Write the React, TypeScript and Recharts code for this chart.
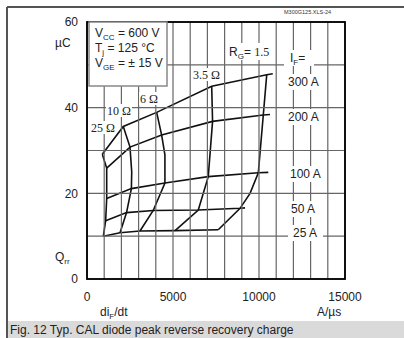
import React from "react"
import { Line, LineChart, XAxis, YAxis } from "recharts"

// di_F/dt in A/us, Q_rr in uC
const xTicks = [0, 1000, 2000, 3000, 4000, 5000, 6000, 7000, 8000, 9000, 10000, 11000, 12000, 13000, 14000, 15000]
const yTicks = [0, 10, 20, 30, 40, 50, 60]
const xLabels = [0, 5000, 10000, 15000]
const yLabels = [0, 20, 40, 60]

// I_F curves (left to right: 25, 10, 6, 3.5, 1.5 ohm)
const if300 = [
  { x: 890, y: 29.1 },
  { x: 2110, y: 35.6 },
  { x: 4050, y: 38.9 },
  { x: 7250, y: 45.0 },
  { x: 10450, y: 47.7 },
  { x: 10800, y: 47.9 },
]
const if200 = [
  { x: 1145, y: 25.9 },
  { x: 2500, y: 30.8 },
  { x: 4340, y: 33.6 },
  { x: 7300, y: 36.8 },
  { x: 10250, y: 38.3 },
  { x: 10640, y: 38.4 },
]
const if100 = [
  { x: 1145, y: 18.8 },
  { x: 2580, y: 21.1 },
  { x: 4530, y: 22.4 },
  { x: 7050, y: 23.9 },
  { x: 9960, y: 24.8 },
  { x: 10540, y: 24.9 },
]
const if50 = [
  { x: 1085, y: 13.6 },
  { x: 2300, y: 15.5 },
  { x: 3850, y: 16.0 },
  { x: 6470, y: 16.1 },
  { x: 8900, y: 16.5 },
  { x: 9190, y: 16.6 },
]
const if25 = [
  { x: 950, y: 10.0 },
  { x: 1920, y: 10.8 },
  { x: 3080, y: 11.2 },
  { x: 5120, y: 11.3 },
  { x: 7630, y: 11.5 },
]

// R_G curves (top to bottom: 300, 200, 100, 50, 25 A)
const rg25 = [
  { x: 890, y: 29.1 },
  { x: 1145, y: 25.9 },
  { x: 1145, y: 18.8 },
  { x: 1085, y: 13.6 },
  { x: 950, y: 10.0 },
]
const rg10 = [
  { x: 2110, y: 35.6 },
  { x: 2500, y: 30.8 },
  { x: 2600, y: 25.0 },
  { x: 2580, y: 21.1 },
  { x: 2300, y: 15.5 },
  { x: 1920, y: 10.8 },
]
const rg6 = [
  { x: 4050, y: 38.9 },
  { x: 4340, y: 33.6 },
  { x: 4530, y: 29.0 },
  { x: 4530, y: 22.4 },
  { x: 3850, y: 16.0 },
  { x: 3080, y: 11.2 },
]
const rg35 = [
  { x: 7250, y: 45.0 },
  { x: 7300, y: 36.8 },
  { x: 7050, y: 23.9 },
  { x: 6470, y: 16.1 },
  { x: 5120, y: 11.3 },
]
const rg15 = [
  { x: 10450, y: 47.7 },
  { x: 10250, y: 38.3 },
  { x: 9960, y: 24.8 },
  { x: 9480, y: 20.0 },
  { x: 8900, y: 16.5 },
  { x: 7630, y: 11.5 },
]

const curves = [if300, if200, if100, if50, if25, rg25, rg10, rg6, rg35, rg15]

const sans = "'Liberation Sans', Arial, sans-serif"
const serif = "'Liberation Serif', 'Times New Roman', serif"
const gridColor = "#666"

// plot box, must agree with the chart margins below
const plot = { left: 87, top: 22, right: 345, bottom: 279 }
const sx = (v: number) => plot.left + (v / 15000) * (plot.right - plot.left)
const sy = (v: number) => plot.bottom - (v / 60) * (plot.bottom - plot.top)

function Overlay() {
  const sub = { fontSize: 8 }
  return (
    <svg width={404} height={338} style={{ position: "absolute", left: 0, top: 0, pointerEvents: "none" }}>
      {/* grid and plot frame */}
      {xTicks.map((v) => (
        <line key={"gx" + v} x1={sx(v)} x2={sx(v)} y1={plot.top} y2={plot.bottom} stroke={gridColor} strokeWidth={1.2} />
      ))}
      {yTicks.map((v) => (
        <line key={"gy" + v} x1={plot.left} x2={plot.right} y1={sy(v)} y2={sy(v)} stroke={gridColor} strokeWidth={1.2} />
      ))}
      <rect
        x={plot.left}
        y={plot.top}
        width={plot.right - plot.left}
        height={plot.bottom - plot.top}
        fill="none"
        stroke="#000"
        strokeWidth={1.8}
      />

      {/* frame and caption */}
      <line x1={7} y1={7} x2={404} y2={7} stroke="#555" strokeWidth={2} />
      <line x1={7} y1={7} x2={7} y2={338} stroke="#555" strokeWidth={2} />
      <rect x={8} y={321} width={396} height={17} fill="#dadada" />
      <text x={10} y={334} fontSize={12} fontFamily={sans} fill="#222">
        Fig. 12 Typ. CAL diode peak reverse recovery charge
      </text>
      <text x={284} y={14} fontSize={5.5} fontFamily={sans} fill="#333">M300G125.XLS-24</text>

      {/* axis titles */}
      <text x={55} y={47} fontSize={12} fontFamily={sans} fill="#222">µC</text>
      <text x={55} y={261} fontSize={12} fontFamily={sans} fill="#222">
        Q<tspan {...sub} dy={3}>rr</tspan>
      </text>
      <text x={100} y={316} fontSize={12} fontFamily={sans} fill="#222">
        di<tspan {...sub} dy={3}>F</tspan><tspan dy={-3}>/dt</tspan>
      </text>
      <text x={317} y={316} fontSize={12} fontFamily={sans} fill="#222">A/µs</text>

      {/* conditions box */}
      <rect x={89} y={22} width={78} height={64} fill="#fff" stroke="#888" strokeWidth={1.5} />
      <text x={95} y={37} fontSize={12} fontFamily={sans} fill="#222">
        V<tspan {...sub} dy={3}>CC</tspan><tspan dy={-3}> = 600 V</tspan>
      </text>
      <text x={95} y={52} fontSize={12} fontFamily={sans} fill="#222">
        T<tspan {...sub} dy={3}>j</tspan><tspan dy={-3}> = 125 °C</tspan>
      </text>
      <text x={95} y={67} fontSize={12} fontFamily={sans} fill="#222">
        V<tspan {...sub} dy={3}>GE</tspan><tspan dy={-3}> = ± 15 V</tspan>
      </text>

      {/* R_G labels */}
      <rect x={90} y={121} width={26} height={13} fill="#fff" />
      <text x={91} y={132} fontSize={12} fontFamily={serif} fill="#222">25 Ω</text>
      <rect x={106} y={104} width={26} height={13} fill="#fff" />
      <text x={107} y={115} fontSize={12} fontFamily={serif} fill="#222">10 Ω</text>
      <rect x={139} y={92} width={20} height={13} fill="#fff" />
      <text x={140} y={103} fontSize={12} fontFamily={serif} fill="#222">6 Ω</text>
      <rect x={192} y={68} width={28} height={13} fill="#fff" />
      <text x={193} y={79} fontSize={12} fontFamily={serif} fill="#222">3.5 Ω</text>
      <rect x={227} y={43} width={46} height={17} fill="#fff" />
      <text x={229} y={56} fontSize={12} fontFamily={sans} fill="#222">
        R<tspan {...sub} dy={3}>G</tspan><tspan dy={-3}>= </tspan>
        <tspan fontFamily={serif}>1.5</tspan>
      </text>

      {/* I_F labels */}
      <rect x={284} y={50} width={30} height={16} fill="#fff" />
      <text x={290} y={62} fontSize={12} fontFamily={sans} fill="#222">
        I<tspan {...sub} dy={3}>F</tspan><tspan dy={-3}>=</tspan>
      </text>
      <rect x={285} y={74} width={37} height={16} fill="#fff" />
      <text x={288} y={86} fontSize={12} fontFamily={sans} fill="#222">300 A</text>
      <rect x={285} y={109} width={37} height={16} fill="#fff" />
      <text x={288} y={121} fontSize={12} fontFamily={sans} fill="#222">200 A</text>
      <rect x={287} y={166} width={36} height={16} fill="#fff" />
      <text x={290} y={178} fontSize={12} fontFamily={sans} fill="#222">100 A</text>
      <rect x={288} y={201} width={30} height={16} fill="#fff" />
      <text x={291} y={213} fontSize={12} fontFamily={sans} fill="#222">50 A</text>
      <rect x={288} y={225} width={35} height={16} fill="#fff" />
      <text x={293} y={237} fontSize={12} fontFamily={sans} fill="#222">25 A</text>
    </svg>
  )
}

export default function App() {
  return (
    <div style={{ position: "absolute", left: 0, top: 0, width: 404, height: 338, background: "#fff" }}>
      <div style={{ position: "absolute", left: 0, top: 0 }}>
        <LineChart width={404} height={338} margin={{ top: 22, right: 59, bottom: 0, left: 0 }}>
          <XAxis
            dataKey="x"
            type="number"
            domain={[0, 15000]}
            ticks={xTicks}
            height={59}
            axisLine={false}
            tickLine={false}
            tickSize={0}
            tickMargin={13}
            interval={0}
            tick={{ fontSize: 12, fill: "#222", fontFamily: sans }}
            tickFormatter={(v: number) => (xLabels.includes(v) ? String(v) : "")}
          />
          <YAxis
            type="number"
            domain={[0, 60]}
            ticks={yTicks}
            width={87}
            axisLine={false}
            tickLine={false}
            tickSize={0}
            tickMargin={9}
            interval={0}
            tick={{ fontSize: 12, fill: "#222", fontFamily: sans }}
            tickFormatter={(v: number) => (yLabels.includes(v) ? String(v) : "")}
          />
          {curves.map((pts, i) => (
            <Line
              key={i}
              data={pts}
              dataKey="y"
              type="linear"
              stroke="#111"
              strokeWidth={1.6}
              dot={false}
              isAnimationActive={false}
            />
          ))}
        </LineChart>
      </div>
      <Overlay />
    </div>
  )
}
